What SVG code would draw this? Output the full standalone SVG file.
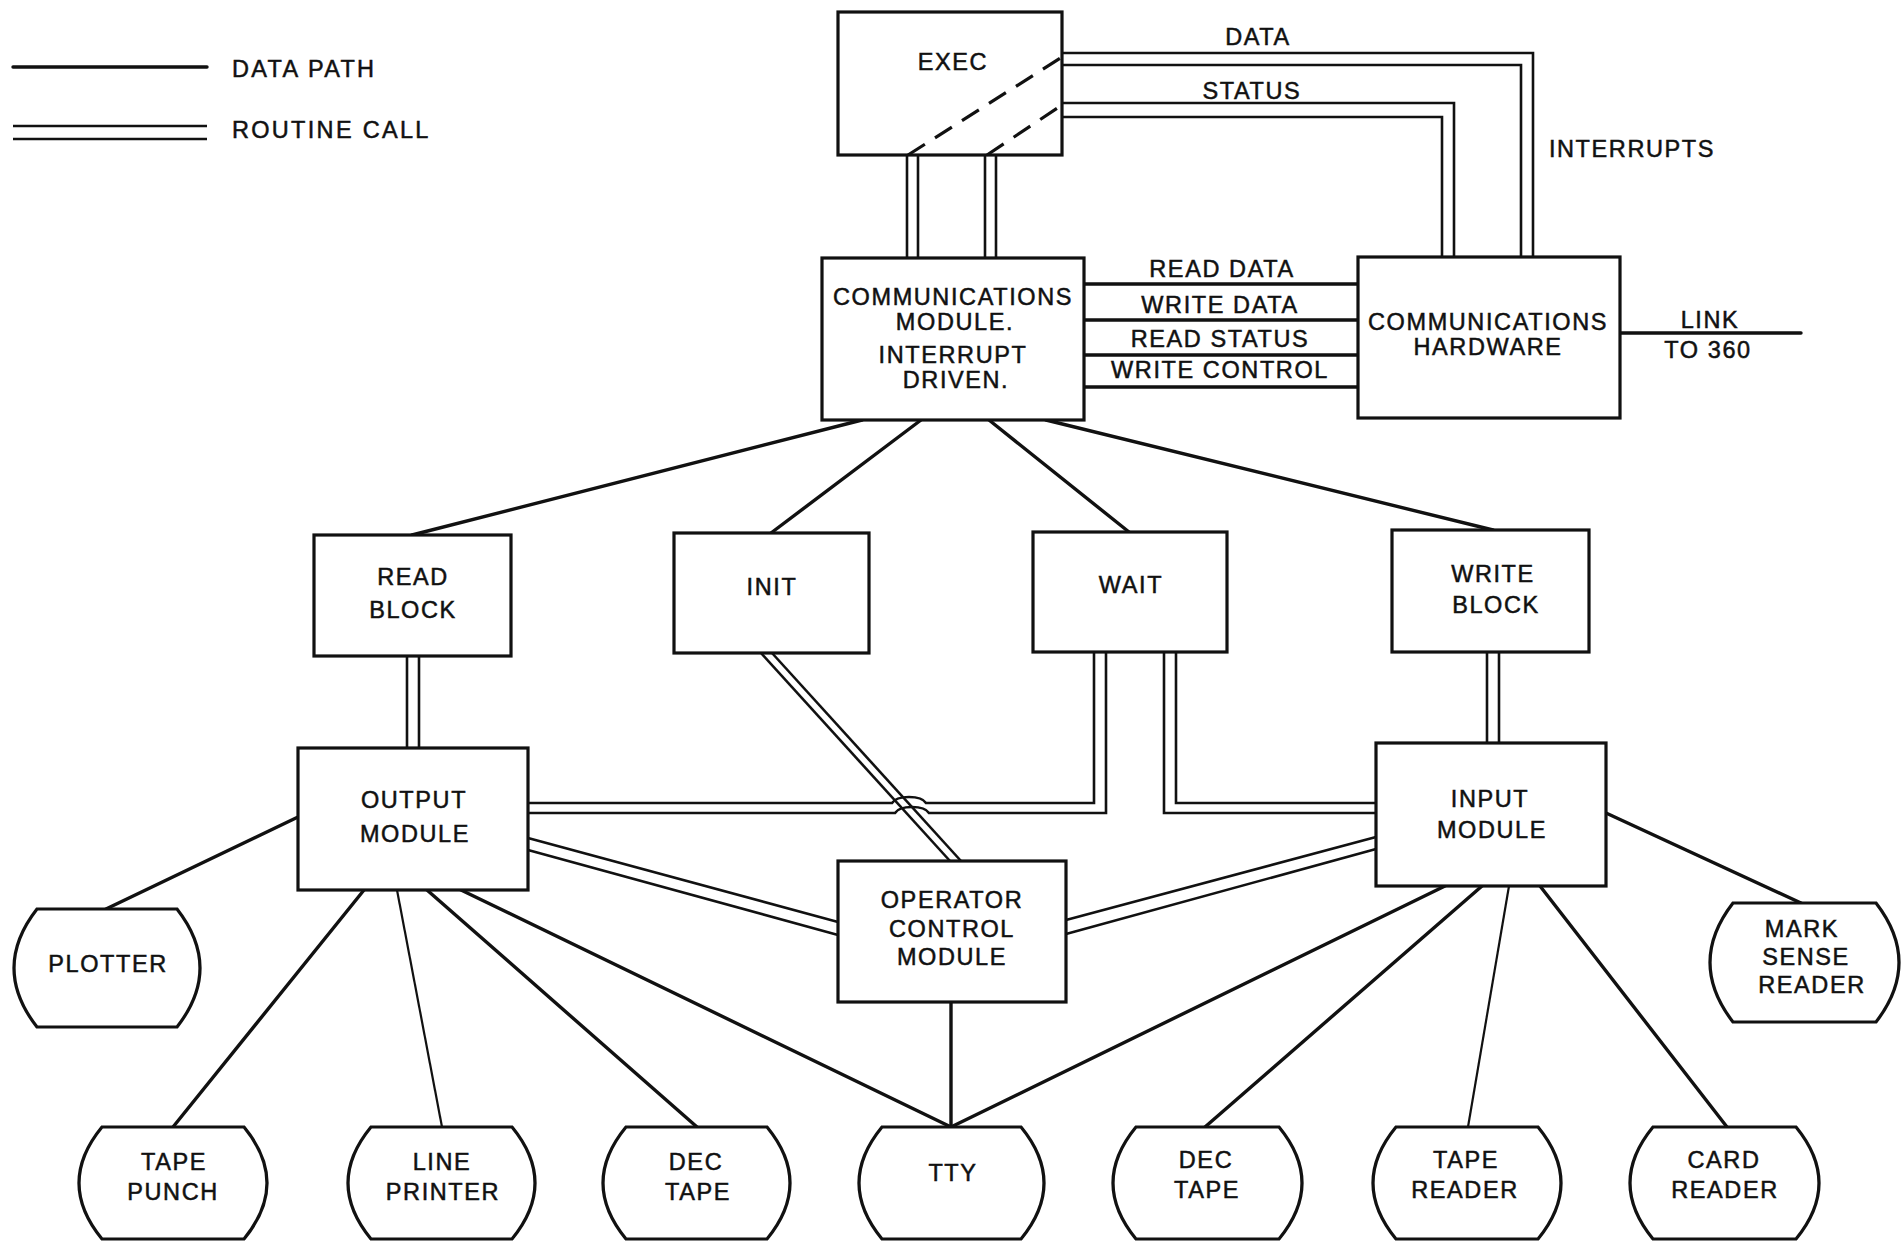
<svg xmlns="http://www.w3.org/2000/svg" width="1902" height="1243" viewBox="0 0 1902 1243">
<style>
  .box { fill: #fff; stroke: #111; stroke-width: 3.2; }
  .dp { fill: none; stroke: #111; stroke-width: 3.4; stroke-linecap: round; }
  .thin { fill: none; stroke: #111; stroke-width: 2.2; }
  .rc { fill: none; stroke: #111; stroke-width: 2.6; }
  .dash { fill: none; stroke: #111; stroke-width: 3.2; stroke-dasharray: 20 12; }
  text { font-family: "Liberation Sans", Arial, sans-serif; font-size: 23.5px; fill: #111; stroke: #111; stroke-width: 0.5; letter-spacing: 1.6px; text-anchor: middle; }
  .leg { text-anchor: start; letter-spacing: 2.3px; }
</style>
<rect width="1902" height="1243" fill="#fff"/>

<g id="legend">
  <line class="dp" x1="13" y1="67" x2="207" y2="67"/>
  <text class="leg" x="232" y="77">DATA PATH</text>
  <line class="rc" x1="13" y1="126" x2="207" y2="126"/>
  <line class="rc" x1="13" y1="139" x2="207" y2="139"/>
  <text class="leg" x="232" y="138">ROUTINE CALL</text>
</g>

<g id="connectors">
  <!-- EXEC to hardware -->
  <path class="rc" d="M1062 53 H1533 V257"/>
  <path class="rc" d="M1062 65 H1521 V257"/>
  <path class="rc" d="M1062 103 H1454 V257"/>
  <path class="rc" d="M1062 117 H1442 V257"/>
  <!-- EXEC to comm module -->
  <path class="rc" d="M907 155 V258 M918 155 V258"/>
  <path class="rc" d="M985 155 V258 M996 155 V258"/>
  <!-- module to hardware -->
  <path class="dp" d="M1084 284 H1358 M1084 320 H1358 M1084 355 H1358 M1084 387 H1358"/>
  <!-- link -->
  <line class="dp" x1="1620" y1="333" x2="1801" y2="333"/>
  <!-- comm module to second row -->
  <line class="dp" x1="862" y1="420" x2="412" y2="535"/>
  <line class="dp" x1="921" y1="420" x2="771" y2="533"/>
  <line class="dp" x1="989" y1="420" x2="1129" y2="532"/>
  <line class="dp" x1="1046" y1="420" x2="1493" y2="530"/>
  <!-- read block to output -->
  <path class="rc" d="M407 656 V748 M419 656 V748"/>
  <!-- write block to input -->
  <path class="rc" d="M1487 652 V743 M1499 652 V743"/>
  <!-- init to operator -->
  <line class="rc" x1="761" y1="653" x2="950" y2="861"/>
  <line class="rc" x1="772" y1="653" x2="961" y2="861"/>
  <!-- output to wait with hop -->
  <path class="rc" d="M528 803 H892 C897 795 921 795 926 803 H1094 V652"/>
  <path class="rc" d="M528 813 H895 C900 805 924 805 929 813 H1106 V652"/>
  <!-- wait to input -->
  <path class="rc" d="M1164 652 V813 H1376"/>
  <path class="rc" d="M1176 652 V803 H1376"/>
  <!-- output to operator -->
  <line class="rc" x1="528" y1="838" x2="838" y2="922"/>
  <line class="rc" x1="528" y1="850" x2="838" y2="935"/>
  <!-- input to operator -->
  <line class="rc" x1="1376" y1="837" x2="1066" y2="920"/>
  <line class="rc" x1="1376" y1="849" x2="1066" y2="934"/>
  <!-- operator to tty -->
  <line class="dp" x1="951" y1="1002" x2="951" y2="1127"/>
  <!-- output to devices -->
  <line class="dp" x1="298" y1="817" x2="106" y2="909"/>
  <line class="dp" x1="364" y1="890" x2="173" y2="1127"/>
  <line class="thin" x1="397" y1="890" x2="442" y2="1127"/>
  <line class="dp" x1="427" y1="890" x2="697" y2="1127"/>
  <line class="dp" x1="461" y1="890" x2="951" y2="1127"/>
  <!-- input to devices -->
  <line class="dp" x1="1445" y1="886" x2="951" y2="1127"/>
  <line class="dp" x1="1482" y1="886" x2="1205" y2="1127"/>
  <line class="thin" x1="1509" y1="886" x2="1468" y2="1127"/>
  <line class="dp" x1="1540" y1="886" x2="1727" y2="1127"/>
  <line class="dp" x1="1606" y1="813" x2="1801" y2="903"/>
</g>

<g id="connector-labels">
  <text x="1258" y="45">DATA</text>
  <text x="1252" y="99">STATUS</text>
  <text x="1632" y="157">INTERRUPTS</text>
  <text x="1222" y="277">READ DATA</text>
  <text x="1220" y="313">WRITE DATA</text>
  <text x="1220" y="347">READ STATUS</text>
  <text x="1220" y="378">WRITE CONTROL</text>
  <text x="1710" y="328">LINK</text>
  <text x="1708" y="358">TO 360</text>
</g>

<g id="exec">
  <rect class="box" x="838" y="12" width="224" height="143"/>
  <line class="dash" x1="908" y1="155" x2="1062" y2="57"/>
  <line class="dash" x1="987" y1="155" x2="1062" y2="105"/>
  <text x="953" y="70">EXEC</text>
</g>

<g id="comm-module">
  <rect class="box" x="822" y="258" width="262" height="162"/>
  <text x="953" y="305">COMMUNICATIONS</text>
  <text x="955" y="330">MODULE.</text>
  <text x="953" y="363">INTERRUPT</text>
  <text x="956" y="388">DRIVEN.</text>
</g>

<g id="comm-hardware">
  <rect class="box" x="1358" y="257" width="262" height="161"/>
  <text x="1488" y="330">COMMUNICATIONS</text>
  <text x="1488" y="355">HARDWARE</text>
</g>

<g id="read-block">
  <rect class="box" x="314" y="535" width="197" height="121"/>
  <text x="413" y="585">READ</text>
  <text x="413" y="618">BLOCK</text>
</g>

<g id="init">
  <rect class="box" x="674" y="533" width="195" height="120"/>
  <text x="772" y="595">INIT</text>
</g>

<g id="wait">
  <rect class="box" x="1033" y="532" width="194" height="120"/>
  <text x="1131" y="593">WAIT</text>
</g>

<g id="write-block">
  <rect class="box" x="1392" y="530" width="197" height="122"/>
  <text x="1493" y="582">WRITE</text>
  <text x="1496" y="613">BLOCK</text>
</g>

<g id="output-module">
  <rect class="box" x="298" y="748" width="230" height="142"/>
  <text x="414" y="808">OUTPUT</text>
  <text x="415" y="842">MODULE</text>
</g>

<g id="input-module">
  <rect class="box" x="1376" y="743" width="230" height="143"/>
  <text x="1490" y="807">INPUT</text>
  <text x="1492" y="838">MODULE</text>
</g>

<g id="operator-control">
  <rect class="box" x="838" y="861" width="228" height="141"/>
  <text x="952" y="908">OPERATOR</text>
  <text x="952" y="937">CONTROL</text>
  <text x="952" y="965">MODULE</text>
</g>

<g id="plotter">
  <path class="box" d="M37 909 H177 Q223 968 177 1027 H37 Q-9 968 37 909 Z"/>
  <text x="108" y="972">PLOTTER</text>
</g>

<g id="mark-sense-reader">
  <path class="box" d="M1733 903 H1876 Q1922 962.5 1876 1022 H1733 Q1687 962.5 1733 903 Z"/>
  <text x="1802" y="937">MARK</text>
  <text x="1806" y="965">SENSE</text>
  <text x="1812" y="993">READER</text>
</g>

<g id="tape-punch">
  <path class="box" d="M102 1127 H244 Q290 1183 244 1239 H102 Q56 1183 102 1127 Z"/>
  <text x="174" y="1170">TAPE</text>
  <text x="173" y="1200">PUNCH</text>
</g>

<g id="line-printer">
  <path class="box" d="M371 1127 H512 Q558 1183 512 1239 H371 Q325 1183 371 1127 Z"/>
  <text x="442" y="1170">LINE</text>
  <text x="443" y="1200">PRINTER</text>
</g>

<g id="dec-tape-1">
  <path class="box" d="M626 1127 H767 Q813 1183 767 1239 H626 Q580 1183 626 1127 Z"/>
  <text x="696" y="1170">DEC</text>
  <text x="698" y="1200">TAPE</text>
</g>

<g id="tty">
  <path class="box" d="M882 1127 H1021 Q1067 1183 1021 1239 H882 Q836 1183 882 1127 Z"/>
  <text x="953" y="1181">TTY</text>
</g>

<g id="dec-tape-2">
  <path class="box" d="M1136 1127 H1279 Q1325 1183 1279 1239 H1136 Q1090 1183 1136 1127 Z"/>
  <text x="1206" y="1168">DEC</text>
  <text x="1207" y="1198">TAPE</text>
</g>

<g id="tape-reader">
  <path class="box" d="M1396 1127 H1538 Q1584 1183 1538 1239 H1396 Q1350 1183 1396 1127 Z"/>
  <text x="1466" y="1168">TAPE</text>
  <text x="1465" y="1198">READER</text>
</g>

<g id="card-reader">
  <path class="box" d="M1653 1127 H1796 Q1842 1183 1796 1239 H1653 Q1607 1183 1653 1127 Z"/>
  <text x="1724" y="1168">CARD</text>
  <text x="1725" y="1198">READER</text>
</g>
</svg>
